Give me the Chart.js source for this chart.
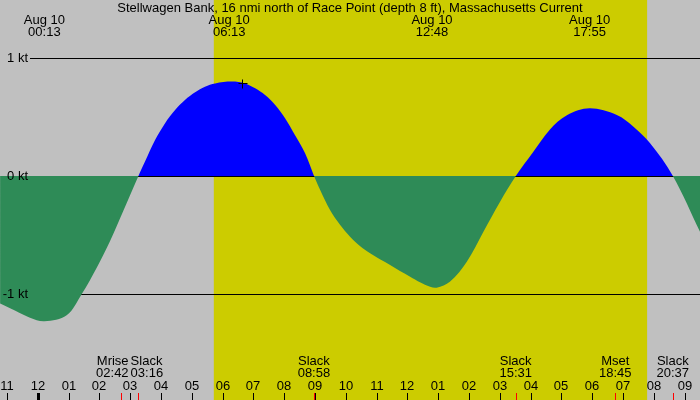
<!DOCTYPE html>
<html>
<head>
<meta charset="utf-8">
<script src="https://cdn.jsdelivr.net/npm/chart.js@4/dist/chart.umd.min.js"></script>
<style>
  html, body { margin: 0; padding: 0; background: #c0c0c0; }
  #wrap { width: 700px; height: 400px; }
</style>
</head>
<body>
<div id="wrap"><canvas id="tideChart" width="700" height="400"></canvas></div>
<script>
// current speed (hours after midnight Aug 10, knots; + = flood)
const hours = [-1.22, -0.74, -0.25, 0.22, 0.94, 1.43, 1.92, 2.35, 2.77, 3.27,
               3.48, 3.81, 4.13, 4.46, 4.78, 5.11, 5.43, 5.76, 6.30, 6.73, 7.06, 7.38, 7.71, 8.03, 8.35, 8.68, 8.97,
               9.17, 9.49, 9.82, 10.14, 10.46, 10.79, 11.11, 11.44, 11.76, 12.09, 12.41, 12.74, 12.95,
               13.38, 13.93, 14.47, 15.01, 15.52,
               16.09, 16.63, 17.18, 17.92, 18.80, 19.34, 19.88, 20.62, 21.50];
const knots = [-1.08, -1.14, -1.20, -1.23, -1.18, -1.00, -0.775, -0.55, -0.30, 0,
               0.12, 0.305, 0.446, 0.559, 0.644, 0.709, 0.757, 0.785, 0.80, 0.785, 0.743, 0.686, 0.602, 0.489, 0.347, 0.192, 0,
               -0.119, -0.288, -0.415, -0.514, -0.593, -0.655, -0.706, -0.754, -0.805, -0.853, -0.90, -0.938, -0.946,
               -0.896, -0.726, -0.472, -0.218, 0,
               0.206, 0.395, 0.515, 0.574, 0.517, 0.418, 0.277, 0, -0.472];

// max / min current times shown along the top
const peakHours = [13 / 60, 6 + 13 / 60, 12 + 48 / 60, 17 + 55 / 60];
const peakDates = ['Aug 10', 'Aug 10', 'Aug 10', 'Aug 10'];
const peakTimes = ['00:13', '06:13', '12:48', '17:55'];

// events along the bottom
const eventNames = ['Mrise', 'Slack', 'Slack', 'Slack', 'Mset', 'Slack'];
const eventTimes = ['02:42', '03:16', '08:58', '15:31', '18:45', '20:37'];

const sunrise = 5 + 43 / 60;
const sunset = 19 + 47 / 60;
const ktLevels = [1, 0, -1];
const ktLabels = ['1 kt', '0 kt', '-1 kt'];
const marker = { h: 6.62, v: 0.79 };

const title = 'Stellwagen Bank, 16 nmi north of Race Point (depth 8 ft), Massachusetts Current';
const FONT = '13px "Liberation Sans", Arial, sans-serif';

function toHours(t) {
    const p = t.split(':');
    return parseInt(p[0], 10) + parseInt(p[1], 10) / 60;
}

function hourLabel(h) {
    let n = ((h % 12) + 12) % 12;
    if (n === 0) n = 12;
    return String(n).padStart(2, '0');
}

const tidePlugin = {
    id: 'tideDecor',
    beforeDraw(chart) {
        const c = chart.ctx;
        const xs = chart.scales.x;
        c.save();
        c.fillStyle = '#c0c0c0';
        c.fillRect(0, 0, chart.width, chart.height);
        c.fillStyle = '#cccc00';
        const x1 = xs.getPixelForValue(sunrise);
        const x2 = xs.getPixelForValue(sunset);
        c.fillRect(x1, 0, x2 - x1, chart.height);
        c.restore();
    },
    beforeDatasetsDraw(chart) {
        const c = chart.ctx;
        const ys = chart.scales.y;
        c.save();
        c.strokeStyle = '#000';
        c.lineWidth = 1;
        ktLevels.forEach(lv => {
            const y = Math.round(ys.getPixelForValue(lv)) + 0.5;
            c.beginPath();
            c.moveTo(30, y);
            c.lineTo(chart.width, y);
            c.stroke();
        });
        c.restore();
    },
    afterDatasetsDraw(chart) {
        const c = chart.ctx;
        const xs = chart.scales.x;
        const ys = chart.scales.y;
        c.save();
        c.fillStyle = '#000';
        c.font = FONT;
        c.textBaseline = 'middle';

        c.textAlign = 'right';
        ktLevels.forEach((lv, i) => {
            c.fillText(ktLabels[i], 28, Math.round(ys.getPixelForValue(lv)) + 0.5);
        });

        c.textAlign = 'center';
        c.fillText(title, chart.width / 2, 8);

        peakHours.forEach((h, i) => {
            const x = xs.getPixelForValue(h);
            c.fillText(peakDates[i], x, 20);
            c.fillText(peakTimes[i], x, 32);
        });

        // hour ticks and labels
        for (let h = -1; h <= 21; h++) {
            const x = Math.round(xs.getPixelForValue(h));
            c.fillText(hourLabel(h), x, 386);
            if (h === 0) c.fillRect(x - 1, 393, 3, 7);
            else c.fillRect(x, 393, 1, 7);
        }

        // event ticks (red) and labels, pushing apart ones that collide
        const ev = eventTimes.map((t, i) => {
            const x = xs.getPixelForValue(toHours(t));
            const w = Math.max(c.measureText(eventNames[i]).width, c.measureText(t).width);
            return { x, w, name: eventNames[i], time: t, align: 'center', tx: x };
        });
        for (let i = 0; i + 1 < ev.length; i++) {
            const a = ev[i], b = ev[i + 1];
            if (a.x + a.w / 2 > b.x - b.w / 2) {
                const mid = (a.x + b.x) / 2;
                a.align = 'right'; a.tx = mid - 1;
                b.align = 'left'; b.tx = mid + 1;
            }
        }
        ev.forEach(e => {
            c.fillStyle = '#ff0000';
            c.fillRect(Math.round(e.x), 393, 1, 7);
            c.fillStyle = '#000';
            c.textAlign = e.align;
            c.fillText(e.name, e.tx, 361);
            c.fillText(e.time, e.tx, 373);
        });

        // small cross marker near the flood peak
        const mx = Math.round(xs.getPixelForValue(marker.h)) + 0.5;
        const my = Math.round(ys.getPixelForValue(marker.v)) + 0.5;
        c.strokeStyle = '#000';
        c.beginPath();
        c.moveTo(mx - 4, my); c.lineTo(mx + 5, my);
        c.moveTo(mx, my - 4); c.lineTo(mx, my + 5);
        c.stroke();
        c.restore();
    }
};

const ctx = document.getElementById('tideChart').getContext('2d');
new Chart(ctx, {
    type: 'line',
    data: {
        datasets: [{
            data: hours.map((h, i) => ({ x: h, y: knots[i] })),
            borderWidth: 0,
            borderColor: 'rgba(0,0,0,0)',
            pointRadius: 0,
            tension: 0.35,
            fill: { target: 'origin', above: '#0000ff', below: '#2e8b57' }
        }]
    },
    options: {
        responsive: false,
        animation: false,
        layout: { padding: 0 },
        plugins: { legend: { display: false }, tooltip: { enabled: false } },
        scales: {
            x: { type: 'linear', display: false, min: -1.224, max: 21.5 },
            y: { display: false, min: -1.898, max: 1.4915 }
        }
    },
    plugins: [tidePlugin]
});
</script>
</body>
</html>
